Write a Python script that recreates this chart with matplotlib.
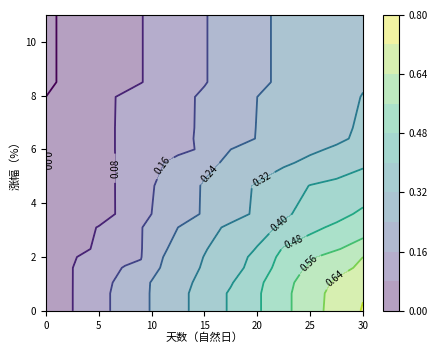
import numpy as np
import matplotlib
matplotlib.use('Agg')
import matplotlib.pyplot as plt

plt.rcParams['font.family'] = ['Noto Sans CJK SC', 'DejaVu Sans']
plt.rcParams['axes.unicode_minus'] = False

# days (x) and amplitude in % (y)
x_days = [0, 1, 2.5, 5, 7.5, 9, 10, 12.5, 15, 17.5, 20, 22.5, 25, 27.5, 30]
y_amp = [0, 0.65, 1.05, 1.6, 2.0, 2.3, 3.1, 3.6, 4.65, 5.5, 6.0, 6.4, 6.8, 7.95, 8.5, 11]

# probability, one row per y value
z_prob = [
    [0, 0.032, 0.079, 0.137, 0.190, 0.223, 0.244, 0.298, 0.352, 0.409, 0.470, 0.539, 0.609, 0.670, 0.725],
    [0, 0.032, 0.079, 0.137, 0.190, 0.223, 0.244, 0.298, 0.352, 0.409, 0.470, 0.539, 0.609, 0.665, 0.715],
    [0, 0.032, 0.079, 0.131, 0.186, 0.220, 0.243, 0.292, 0.343, 0.394, 0.463, 0.534, 0.599, 0.652, 0.690],
    [0, 0.032, 0.079, 0.125, 0.165, 0.170, 0.220, 0.282, 0.328, 0.369, 0.432, 0.518, 0.572, 0.614, 0.655],
    [0, 0.030, 0.074, 0.108, 0.139, 0.157, 0.211, 0.277, 0.322, 0.364, 0.420, 0.504, 0.549, 0.595, 0.640],
    [0, 0.020, 0.049, 0.094, 0.133, 0.156, 0.197, 0.269, 0.315, 0.358, 0.404, 0.487, 0.520, 0.553, 0.600],
    [0, 0.017, 0.042, 0.084, 0.129, 0.157, 0.179, 0.240, 0.291, 0.336, 0.373, 0.413, 0.461, 0.495, 0.520],
    [0, 0.008, 0.021, 0.042, 0.103, 0.137, 0.160, 0.204, 0.248, 0.289, 0.333, 0.389, 0.424, 0.455, 0.495],
    [0, 0.009, 0.023, 0.046, 0.101, 0.133, 0.155, 0.202, 0.247, 0.288, 0.328, 0.366, 0.402, 0.416, 0.430],
    [0, 0.010, 0.026, 0.052, 0.097, 0.121, 0.141, 0.182, 0.221, 0.254, 0.282, 0.309, 0.336, 0.363, 0.390],
    [0, 0.013, 0.032, 0.064, 0.090, 0.106, 0.117, 0.143, 0.170, 0.240, 0.263, 0.285, 0.308, 0.330, 0.350],
    [0, 0.013, 0.032, 0.064, 0.090, 0.106, 0.116, 0.143, 0.172, 0.208, 0.243, 0.264, 0.286, 0.307, 0.335],
    [0, 0.013, 0.032, 0.064, 0.090, 0.106, 0.116, 0.142, 0.171, 0.207, 0.242, 0.262, 0.283, 0.304, 0.330],
    [0, 0.013, 0.032, 0.064, 0.089, 0.105, 0.116, 0.142, 0.170, 0.205, 0.240, 0.260, 0.281, 0.301, 0.322],
    [0, 0.000, 0.015, 0.039, 0.063, 0.078, 0.090, 0.123, 0.156, 0.191, 0.226, 0.253, 0.273, 0.294, 0.315],
    [0, 0.000, 0.015, 0.039, 0.063, 0.078, 0.090, 0.123, 0.156, 0.191, 0.226, 0.253, 0.273, 0.294, 0.310],
]

levels = [0, 0.08, 0.16, 0.24, 0.32, 0.40, 0.48, 0.56, 0.64, 0.72, 0.80]
cbar_ticks = [0, 0.16, 0.32, 0.48, 0.64, 0.80]

X, Y = np.meshgrid(x_days, y_amp)
Z = np.array(z_prob)

fig = plt.figure(figsize=(4.41, 3.45), dpi=100)
ax = fig.add_axes([0.104, 0.099, 0.719, 0.858])
cax = fig.add_axes([0.868, 0.099, 0.036, 0.858])

cf = ax.contourf(X, Y, Z, levels=levels, cmap='viridis', alpha=0.4)
cs = ax.contour(X, Y, Z, levels=levels, cmap='viridis', linewidths=1.3)
label_pos = [(0.1, 5.6), (6.6, 5.3), (11.0, 5.4), (15.5, 5.1), (20.3, 5.0),
             (22.0, 3.3), (23.5, 2.5), (24.8, 1.8), (27.4, 1.2)]
ax.clabel(cs, levels[:9], fmt='%.2f', fontsize=7, colors='black', manual=label_pos)

ax.set_xlim(0, 30)
ax.set_ylim(0, 11)
ax.set_xticks([0, 5, 10, 15, 20, 25, 30])
ax.set_yticks([0, 2, 4, 6, 8, 10])
ax.tick_params(labelsize=7)
ax.set_xlabel('天数（自然日）', fontsize=8, labelpad=1)
ax.set_ylabel('涨幅（%）', fontsize=8, labelpad=3)

cb = fig.colorbar(cf, cax=cax, ticks=cbar_ticks, format='%.2f')
cb.ax.tick_params(labelsize=7)

fig.savefig('out.png', dpi=100)
